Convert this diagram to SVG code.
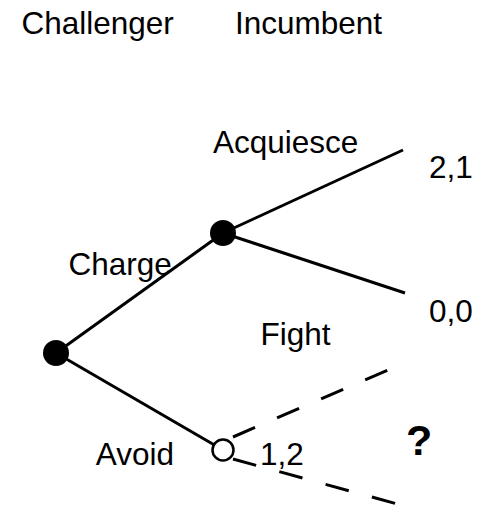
<svg xmlns="http://www.w3.org/2000/svg" width="479" height="507" viewBox="0 0 479 507">
  <style>
    text { font-family: "Liberation Sans", Arial, sans-serif; font-size: 31.5px; fill: #000; }
    .q { font-weight: bold; font-size: 43px; }
    .edge { stroke: #000; stroke-width: 3; fill: none; }
    .dash { stroke-dasharray: 24 24; }
    .dot { fill: #000; }
    .open { fill: #fff; stroke: #000; stroke-width: 2.5; }
  </style>
  <rect width="479" height="507" fill="#fff"/>
  <g id="headers">
    <text x="21.5" y="34">Challenger</text>
    <text x="235" y="34">Incumbent</text>
  </g>
  <g id="connectors">
    <line class="edge" x1="56" y1="353" x2="223" y2="233"/>
    <line class="edge" x1="56" y1="353" x2="223" y2="450"/>
    <line class="edge" x1="223" y1="233" x2="403" y2="150"/>
    <line class="edge" x1="223" y1="233" x2="405" y2="293"/>
    <line class="edge dash" x1="233" y1="437" x2="388" y2="370"/>
    <line class="edge dash" x1="233" y1="459" x2="401" y2="505"/>
  </g>
  <g id="labels">
    <text x="213" y="153">Acquiesce</text>
    <text x="68.5" y="275">Charge</text>
    <text x="260.5" y="345">Fight</text>
    <text x="174" y="465" text-anchor="end">Avoid</text>
  </g>
  <g id="payoffs">
    <text x="429" y="178">2,1</text>
    <text x="429" y="322">0,0</text>
    <text x="260" y="465">1,2</text>
    <text class="q" x="406" y="455">?</text>
  </g>
  <g id="node-challenger">
    <circle class="dot" cx="56" cy="353" r="13"/>
  </g>
  <g id="node-incumbent-charge">
    <circle class="dot" cx="223" cy="233" r="13"/>
  </g>
  <g id="node-incumbent-avoid">
    <circle class="open" cx="223" cy="450" r="10.5"/>
  </g>
</svg>
